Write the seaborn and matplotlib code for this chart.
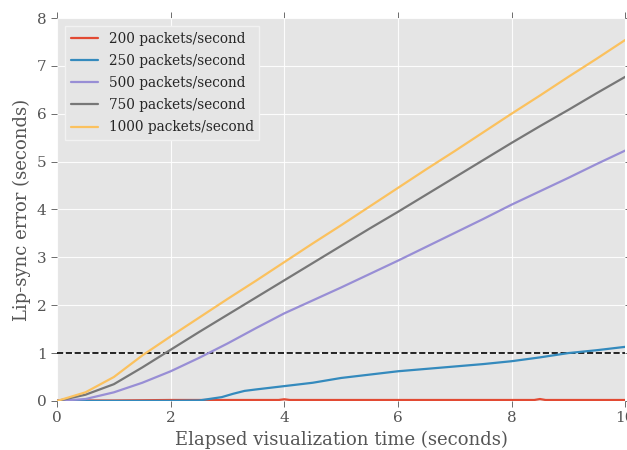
import numpy as np
import pandas as pd
import matplotlib
matplotlib.use("Agg")
import matplotlib.pyplot as plt
import seaborn as sns

# ---- data ----
t_main = [0, 0.5, 1, 1.5, 2, 2.5, 3, 3.5, 4, 4.5, 5, 5.5, 6, 6.5, 7, 7.5, 8, 8.5, 9, 9.5, 10]
err_1000 = [0, 0.18, 0.5, 0.95, 1.35, 1.74, 2.13, 2.51, 2.9, 3.29, 3.67, 4.06, 4.45, 4.84, 5.22, 5.61, 6.0, 6.38, 6.77, 7.15, 7.54]
err_750 = [0, 0.13, 0.35, 0.7, 1.07, 1.44, 1.8, 2.16, 2.52, 2.88, 3.24, 3.6, 3.95, 4.31, 4.67, 5.03, 5.39, 5.74, 6.08, 6.43, 6.77]
err_500 = [0, 0.04, 0.18, 0.38, 0.62, 0.9, 1.2, 1.52, 1.83, 2.1, 2.37, 2.65, 2.93, 3.22, 3.51, 3.8, 4.1, 4.38, 4.66, 4.95, 5.23]
t_250 = [0, 1, 2, 2.5, 2.9, 3.1, 3.3, 3.5, 4, 4.5, 5, 5.5, 6, 6.5, 7, 7.5, 8, 8.5, 9, 9.5, 10]
err_250 = [0, 0, 0, 0.01, 0.08, 0.15, 0.21, 0.24, 0.31, 0.38, 0.48, 0.55, 0.62, 0.67, 0.72, 0.77, 0.83, 0.91, 1.0, 1.06, 1.13]
t_200 = [0, 1, 2, 3, 3.9, 4, 4.1, 5, 6, 7, 8, 8.4, 8.5, 8.6, 9, 10]
err_200 = [0.01, 0.01, 0.02, 0.02, 0.02, 0.035, 0.02, 0.02, 0.02, 0.02, 0.02, 0.02, 0.04, 0.02, 0.02, 0.02]

labels = ["200 packets/second", "250 packets/second", "500 packets/second",
          "750 packets/second", "1000 packets/second"]
colors = ["#E24A33", "#348ABD", "#988ED5", "#777777", "#FBC15E"]
threshold = 1.0
x_ticks = [0, 2, 4, 6, 8, 10]
y_ticks = [0, 1, 2, 3, 4, 5, 6, 7, 8]

series = [(t_200, err_200), (t_250, err_250), (t_main, err_500),
          (t_main, err_750), (t_main, err_1000)]
frames = []
for lab, (tt, ee) in zip(labels, series):
    frames.append(pd.DataFrame({"t": tt, "err": ee, "rate": lab}))
df = pd.concat(frames, ignore_index=True)

sns.set_style("darkgrid", {
    "axes.facecolor": "#E5E5E5",
    "grid.color": "white",
    "axes.edgecolor": "#E5E5E5",
    "xtick.bottom": True, "xtick.top": True,
    "ytick.left": True, "ytick.right": True,
})
plt.rcParams["font.family"] = ["DejaVu Serif"]
plt.rcParams["xtick.direction"] = "out"
plt.rcParams["ytick.direction"] = "out"

fig = plt.figure(figsize=(6.27, 4.5), dpi=100)
ax = fig.add_axes([0.091, 0.109, 0.906, 0.851])

sns.lineplot(data=df, x="t", y="err", hue="rate", hue_order=labels,
             palette=dict(zip(labels, colors)), linewidth=1.6, ax=ax,
             estimator=None, sort=False)
ax.axhline(threshold, color="black", linestyle="--", linewidth=1.2, zorder=1.5)

ax.set_xlim(0, 10)
ax.set_ylim(0, 8)
ax.set_xticks(x_ticks)
ax.set_yticks(y_ticks)
ax.grid(True, color="white", linewidth=0.8, alpha=0.9)
ax.tick_params(axis="both", which="both", colors="#555555", labelsize=11,
               length=4, width=0.6, direction="out",
               top=True, right=True, labeltop=False, labelright=False)
for s in ax.spines.values():
    s.set_visible(False)
ax.set_xlabel("Elapsed visualization time (seconds)", fontsize=13, color="#555555")
ax.set_ylabel("Lip-sync error (seconds)", fontsize=13, color="#555555")

leg = ax.legend(loc="upper left", fontsize=9.8, frameon=True, fancybox=False,
                borderaxespad=0.6, handlelength=2.0, labelspacing=0.6)
leg.get_frame().set_facecolor("#E5E5E5")
leg.get_frame().set_edgecolor("#F2F2F2")
leg.get_frame().set_linewidth(1.0)
leg.get_frame().set_alpha(1.0)

fig.savefig("out.png", dpi=100)
